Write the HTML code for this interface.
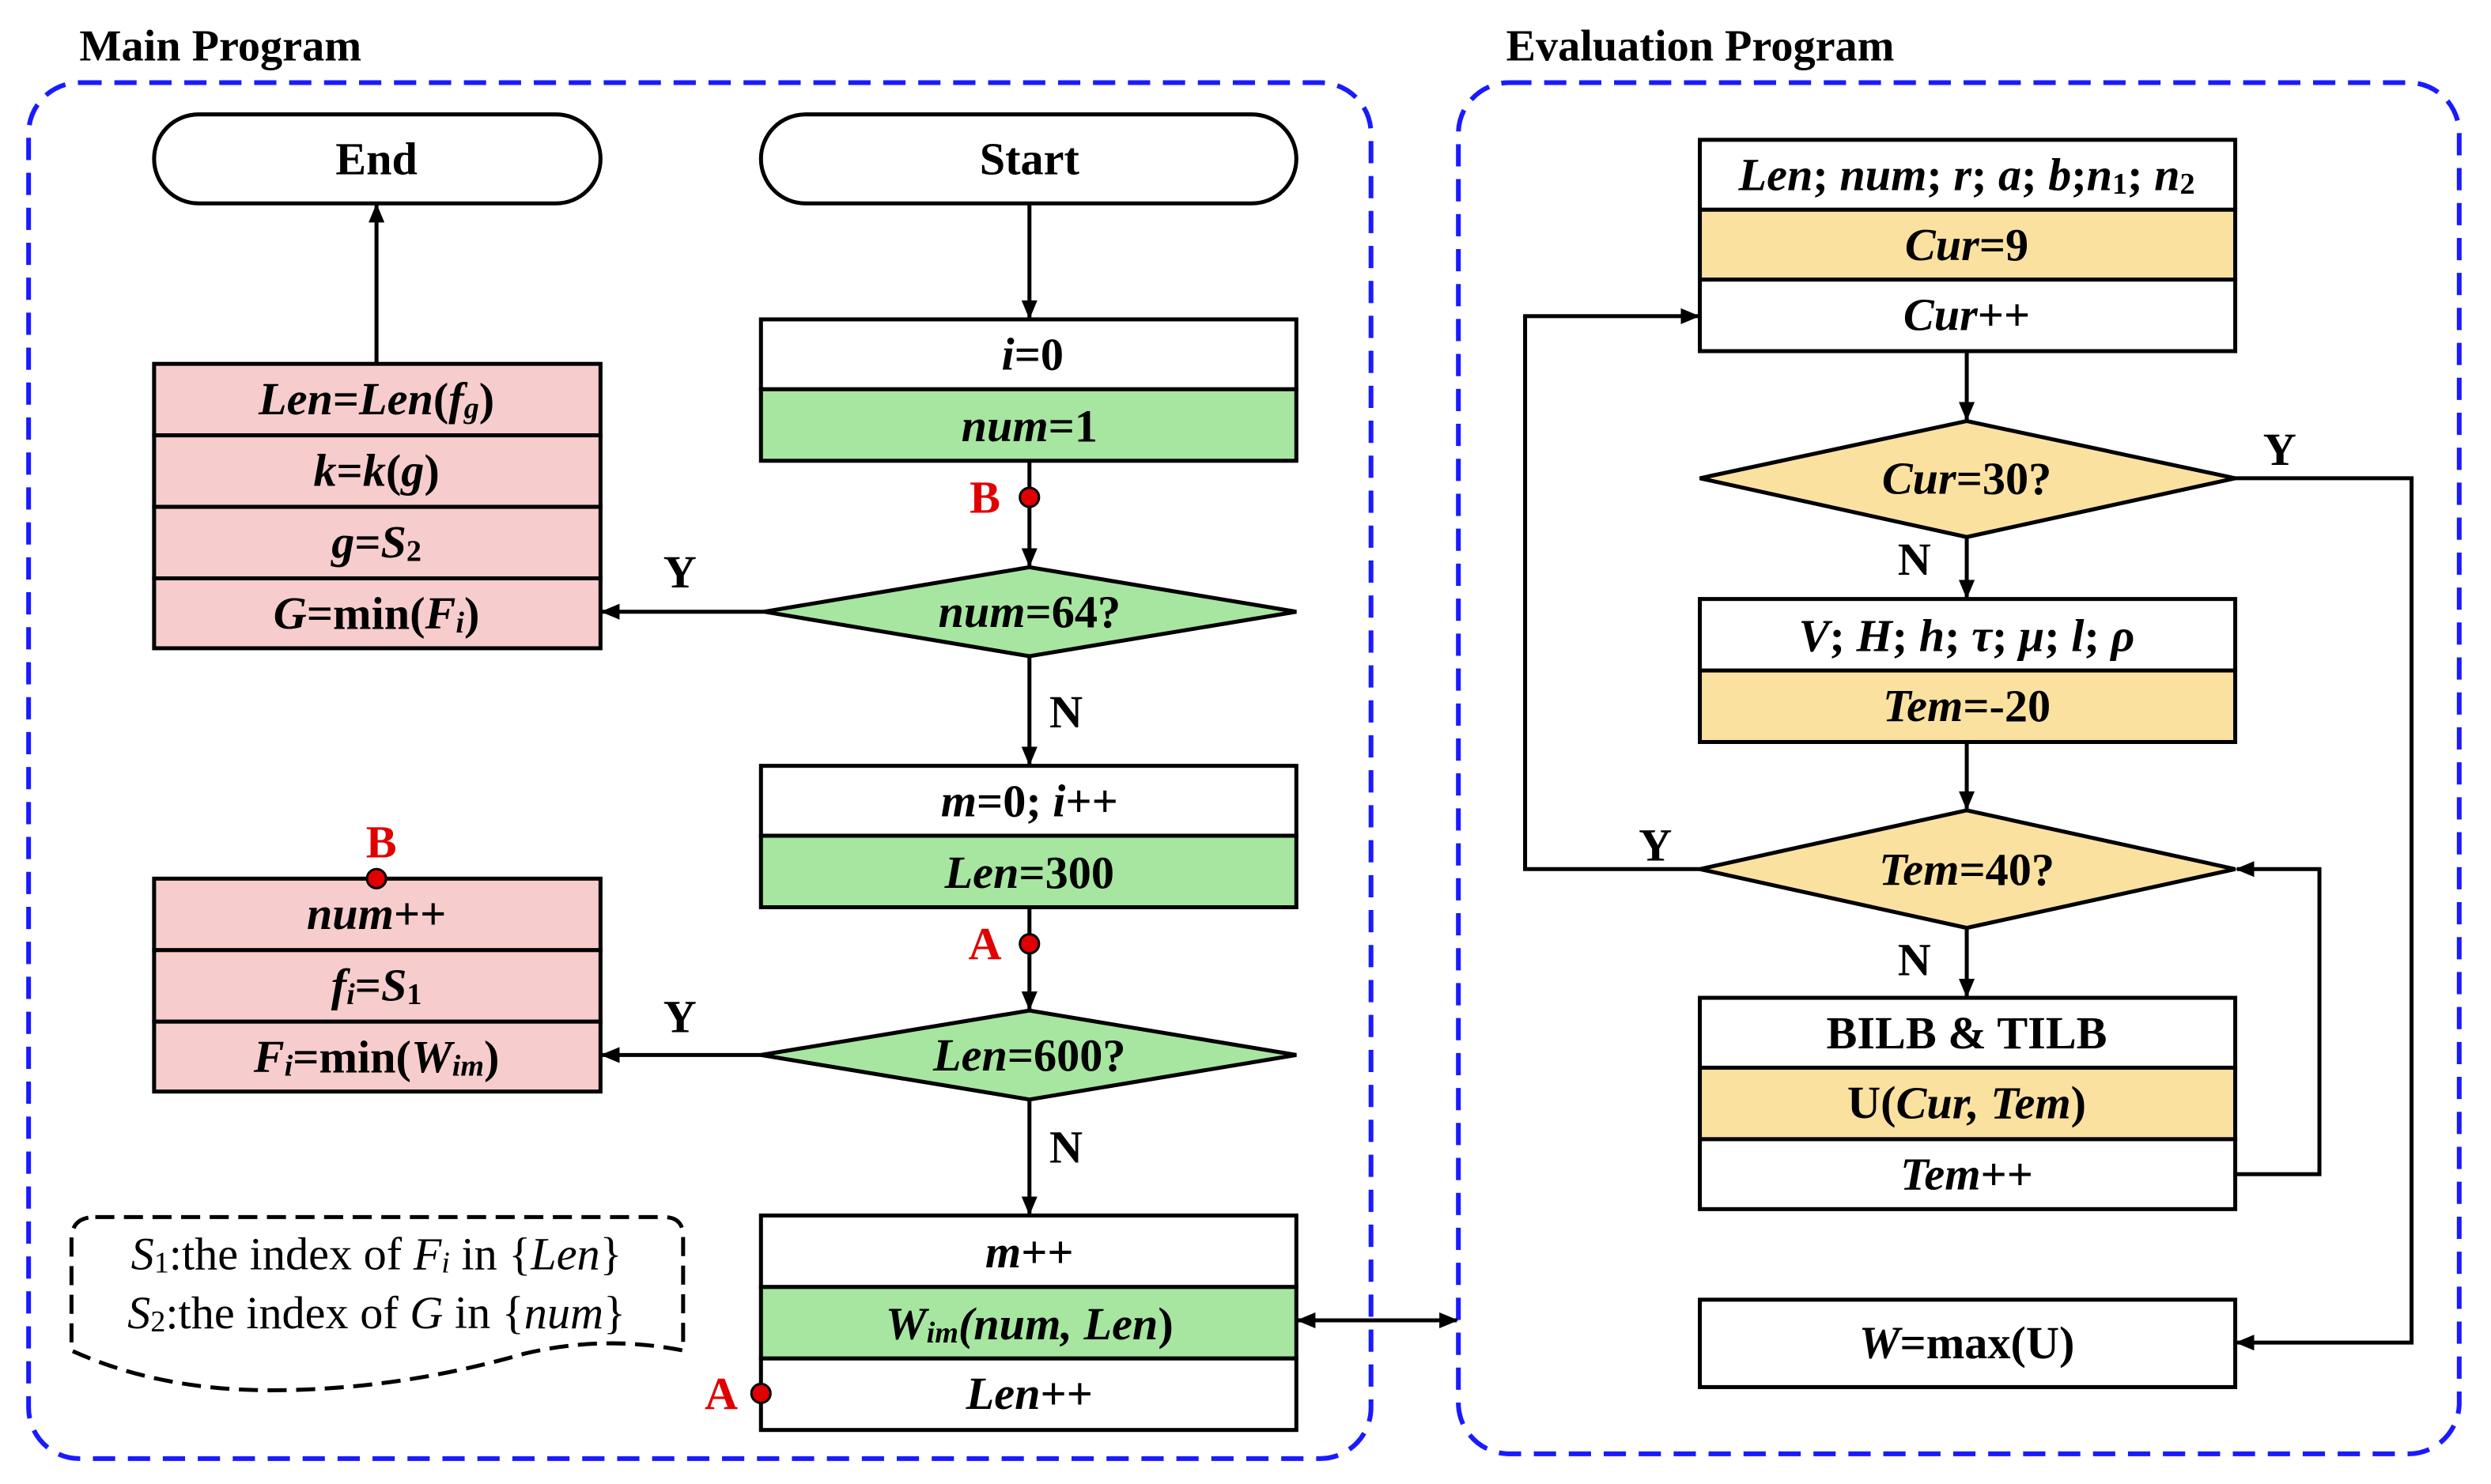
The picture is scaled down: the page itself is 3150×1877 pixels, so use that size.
<!DOCTYPE html>
<html><head><meta charset="utf-8"><style>
html,body{margin:0;padding:0;background:#fff}
svg{display:block}
text{font-family:"Liberation Serif","Times New Roman",serif;font-size:29px;font-weight:bold;text-anchor:middle;dominant-baseline:central}
.i{font-style:italic}
</style></head><body>
<svg width="3150" height="1877" viewBox="0 0 1568 934" preserveAspectRatio="none" xmlns="http://www.w3.org/2000/svg" font-family="Liberation Serif, serif">
<defs>
<marker id="ar" markerWidth="12" markerHeight="10" refX="11" refY="5" orient="auto" markerUnits="userSpaceOnUse"><path d="M0,0 L12,5 L0,10 Z" fill="#000"/></marker>
<marker id="as" markerWidth="12" markerHeight="10" refX="1" refY="5" orient="auto" markerUnits="userSpaceOnUse"><path d="M12,0 L0,5 L12,10 Z" fill="#000"/></marker>
</defs>
<g fill="none" stroke="#1a1aff" stroke-width="3" stroke-dasharray="14,8">
<rect x="18" y="52" width="845" height="866" rx="32"/>
<rect x="918" y="52" width="630" height="863" rx="32"/>
</g>
<text x="50" y="29" style="font-size:28px;text-anchor:start">Main Program</text>
<text x="948" y="29" style="font-size:28px;text-anchor:start">Evaluation Program</text>

<g stroke="#000" stroke-width="2.5">
<rect x="97" y="72" width="281" height="56" rx="28" fill="#fff"/>
<rect x="479" y="72" width="337" height="56" rx="28" fill="#fff"/>
<rect x="479" y="201" width="337" height="44" fill="#fff"/>
<rect x="479" y="245" width="337" height="45" fill="#a6e6a0"/>
<polygon points="481,385 648,357 816,385 648,413" fill="#a6e6a0"/>
<rect x="479" y="482" width="337" height="44" fill="#fff"/>
<rect x="479" y="526" width="337" height="45" fill="#a6e6a0"/>
<polygon points="479,664 648,636 816,664 648,692" fill="#a6e6a0"/>
<rect x="479" y="765" width="337" height="45" fill="#fff"/>
<rect x="479" y="810" width="337" height="45" fill="#a6e6a0"/>
<rect x="479" y="855" width="337" height="45" fill="#fff"/>
<rect x="97" y="229" width="281" height="45" fill="#f6cccc"/>
<rect x="97" y="274" width="281" height="45" fill="#f6cccc"/>
<rect x="97" y="319" width="281" height="45" fill="#f6cccc"/>
<rect x="97" y="364" width="281" height="44" fill="#f6cccc"/>
<rect x="97" y="553" width="281" height="45" fill="#f6cccc"/>
<rect x="97" y="598" width="281" height="45" fill="#f6cccc"/>
<rect x="97" y="643" width="281" height="44" fill="#f6cccc"/>
<rect x="1070" y="88" width="337" height="44" fill="#fff"/>
<rect x="1070" y="132" width="337" height="44" fill="#fbe1a0"/>
<rect x="1070" y="176" width="337" height="45" fill="#fff"/>
<polygon points="1070,301 1238,265 1407,301 1238,338" fill="#fbe1a0"/>
<rect x="1070" y="377" width="337" height="45" fill="#fff"/>
<rect x="1070" y="422" width="337" height="45" fill="#fbe1a0"/>
<polygon points="1070,547 1238,510 1407,547 1238,584" fill="#fbe1a0"/>
<rect x="1070" y="628" width="337" height="44" fill="#fff"/>
<rect x="1070" y="672" width="337" height="45" fill="#fbe1a0"/>
<rect x="1070" y="717" width="337" height="44" fill="#fff"/>
<rect x="1070" y="818" width="337" height="55" fill="#fff"/>
</g>
<path d="M60,766 H418 Q430,766 430,778 V850 Q380,840 330,852 Q250,875 170,875 Q100,875 45,850 V780 Q45,766 60,766 Z" fill="none" stroke="#000" stroke-width="2.5" stroke-dasharray="12,6"/>

<g stroke="#000" stroke-width="2.5" fill="none" marker-end="url(#ar)">
<line x1="648" y1="128" x2="648" y2="200"/>
<line x1="648" y1="290" x2="648" y2="356"/>
<line x1="481" y1="385" x2="379" y2="385"/>
<line x1="648" y1="413" x2="648" y2="481"/>
<line x1="648" y1="571" x2="648" y2="635"/>
<line x1="479" y1="664" x2="379" y2="664"/>
<line x1="648" y1="692" x2="648" y2="764"/>
<line x1="237" y1="229" x2="237" y2="129"/>
<line x1="817" y1="831" x2="917" y2="831" marker-start="url(#as)"/>
<line x1="1238" y1="221" x2="1238" y2="264"/>
<line x1="1238" y1="338" x2="1238" y2="376"/>
<line x1="1238" y1="467" x2="1238" y2="509"/>
<line x1="1238" y1="584" x2="1238" y2="627"/>
<polyline points="1407,301 1518,301 1518,845 1408,845"/>
<polyline points="1070,547 960,547 960,199 1069,199"/>
<polyline points="1407,739 1460,739 1460,547 1408,547"/>
</g>
<g fill="#e00000" stroke="#000" stroke-width="1.5">
<circle cx="648" cy="313" r="6"/><circle cx="648" cy="594" r="6"/><circle cx="479" cy="877" r="6"/><circle cx="237" cy="553" r="6"/>
</g>
<g fill="#e00000" style="font-size:26px">
<text x="620" y="313">B</text><text x="620" y="594">A</text><text x="454" y="877">A</text><text x="240" y="530">B</text>
</g>
<text x="428" y="360">Y</text><text x="428" y="640">Y</text>
<text x="671" y="448">N</text><text x="671" y="722">N</text>
<text x="1435" y="283">Y</text><text x="1042" y="532">Y</text>
<text x="1205" y="352">N</text><text x="1205" y="604">N</text>

<text x="237" y="100">End</text>
<text x="648" y="100">Start</text>
<text x="650" y="223" class="i">i<tspan font-style="normal">=0</tspan></text>
<text x="648" y="268" class="i">num<tspan font-style="normal">=1</tspan></text>
<text x="648" y="385" class="i">num<tspan font-style="normal">=64?</tspan></text>
<text x="648" y="504" class="i">m<tspan font-style="normal">=0; </tspan>i<tspan font-style="normal">++</tspan></text>
<text x="648" y="549" class="i">Len<tspan font-style="normal">=300</tspan></text>
<text x="648" y="664" class="i">Len<tspan font-style="normal">=600?</tspan></text>
<text x="648" y="788" class="i">m<tspan font-style="normal">++</tspan></text>
<text x="648" y="833" class="i">W<tspan font-size="19" dy="6">im</tspan><tspan dy="-6">(num, Len</tspan><tspan font-style="normal">)</tspan></text>
<text x="648" y="877" class="i">Len<tspan font-style="normal">++</tspan></text>
<text x="237" y="251" class="i">Len<tspan font-style="normal">=</tspan>Len<tspan font-style="normal">(</tspan>f<tspan font-size="19" dy="6">g</tspan><tspan dy="-6" font-style="normal">)</tspan></text>
<text x="237" y="296" class="i">k<tspan font-style="normal">=</tspan>k<tspan font-style="normal">(</tspan>g<tspan font-style="normal">)</tspan></text>
<text x="237" y="341" class="i">g<tspan font-style="normal">=</tspan>S<tspan font-size="19" dy="6" font-style="normal">2</tspan></text>
<text x="237" y="386" class="i">G<tspan font-style="normal">=min(</tspan>F<tspan font-size="19" dy="6">i</tspan><tspan dy="-6" font-style="normal">)</tspan></text>
<text x="237" y="575" class="i">num<tspan font-style="normal">++</tspan></text>
<text x="237" y="620" class="i">f<tspan font-size="19" dy="6">i</tspan><tspan dy="-6" font-style="normal">=</tspan>S<tspan font-size="19" dy="6" font-style="normal">1</tspan></text>
<text x="237" y="665" class="i">F<tspan font-size="19" dy="6">i</tspan><tspan dy="-6" font-style="normal">=min(</tspan>W<tspan font-size="19" dy="6">im</tspan><tspan dy="-6" font-style="normal">)</tspan></text>
<text x="237" y="789" style="font-weight:normal;font-size:29px"><tspan font-style="italic">S</tspan><tspan font-size="19" dy="6">1</tspan><tspan dy="-6">:the index of </tspan><tspan font-style="italic">F</tspan><tspan font-size="19" dy="6" font-style="italic">i</tspan><tspan dy="-6"> in {</tspan><tspan font-style="italic">Len</tspan>}</text>
<text x="237" y="826" style="font-weight:normal;font-size:29px"><tspan font-style="italic">S</tspan><tspan font-size="19" dy="6">2</tspan><tspan dy="-6">:the index of </tspan><tspan font-style="italic">G</tspan> in {<tspan font-style="italic">num</tspan>}</text>

<text x="1238" y="110" class="i">Len<tspan font-style="normal">; </tspan>num<tspan font-style="normal">; </tspan>r<tspan font-style="normal">; </tspan>a<tspan font-style="normal">; </tspan>b<tspan font-style="normal">;</tspan>n<tspan font-size="19" dy="6" font-style="normal">1</tspan><tspan dy="-6" font-style="normal">; </tspan>n<tspan font-size="19" dy="6" font-style="normal">2</tspan></text>
<text x="1238" y="154" class="i">Cur<tspan font-style="normal">=9</tspan></text>
<text x="1238" y="198" class="i">Cur<tspan font-style="normal">++</tspan></text>
<text x="1238" y="301" class="i">Cur<tspan font-style="normal">=30?</tspan></text>
<text x="1238" y="400" class="i">V<tspan font-style="normal">; </tspan>H<tspan font-style="normal">; </tspan>h<tspan font-style="normal">; </tspan>τ<tspan font-style="normal">; </tspan>μ<tspan font-style="normal">; </tspan>l<tspan font-style="normal">; </tspan>ρ</text>
<text x="1238" y="444" class="i">Tem<tspan font-style="normal">=-20</tspan></text>
<text x="1238" y="547" class="i">Tem<tspan font-style="normal">=40?</tspan></text>
<text x="1238" y="650">BILB &amp; TILB</text>
<text x="1238" y="694">U(<tspan font-style="italic">Cur, Tem</tspan>)</text>
<text x="1238" y="739" class="i">Tem<tspan font-style="normal">++</tspan></text>
<text x="1238" y="845" class="i">W<tspan font-style="normal">=max(U)</tspan></text>
</svg>
</body></html>
